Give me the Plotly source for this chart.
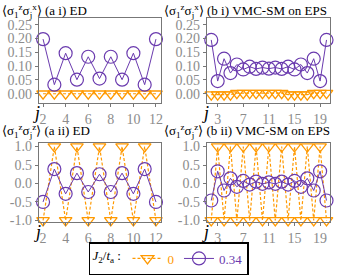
import plotly.graph_objects as go

# ---------------- data ----------------
j_a = list(range(2, 13))
j_b = list(range(2, 21))

# (a i) ED  row 1
ai_J0 = [0.0] * 11
ai_J034 = [0.198, 0.033, 0.147, 0.051, 0.134, 0.055, 0.134, 0.051, 0.147, 0.033, 0.198]

# (b i) VMC-SM on EPS row 1
bi_J0 = [-0.003, -0.003, -0.003, -0.003, 0.002, 0.002, 0.002, 0.002, 0.002, 0.002,
         0.002, 0.002, -0.003, -0.003, -0.003, -0.003, 0.002, 0.002, 0.002]
bi_J034 = [0.195, 0.046, 0.127, 0.075, 0.106, 0.088, 0.098, 0.09, 0.095, 0.091,
           0.095, 0.09, 0.098, 0.088, 0.106, 0.075, 0.127, 0.046, 0.195]

# (a ii) ED  <sz sz>
aii_J0 = [-1, 1, -1, 1, -1, 1, -1, 1, -1, 1, -1]
aii_J034 = [-0.5, 0.39, -0.28, 0.28, -0.23, 0.25, -0.23, 0.28, -0.28, 0.39, -0.5]

# (b ii) VMC-SM on EPS <sz sz>
bii_J0 = [-1, 1, -1, 1, -1, 1, -1, 1, -1, 1, -1, 1, -1, 1, -1, 1, -1, 1, -1]
bii_J034 = [-0.46, 0.33, -0.19, 0.14, -0.09, 0.07, -0.03, 0.05, -0.01, 0.03,
            -0.01, 0.05, -0.03, 0.07, -0.09, 0.14, -0.19, 0.33, -0.46]

xt_a = [2, 4, 6, 8, 10, 12]
xt_b = [3, 7, 11, 15, 19]
yt_i = [0.0, 0.05, 0.10, 0.15, 0.20, 0.25]
yt_i_text = ["0.00", "0.05", "0.10", "0.15", "0.20", "0.25"]
yt_ii = [-1.0, -0.5, 0.0, 0.5, 1.0]
yt_ii_text = ["-1.0", "-0.5", "0.0", "0.5", "1.0"]

titles = [
    "⟨σ<sub>1</sub><sup>z</sup>σ<sub>j</sub><sup>x</sup>⟩ (a i) ED",
    "⟨σ<sub>1</sub><sup>z</sup>σ<sub>j</sub><sup>x</sup>⟩ (b i) VMC-SM on EPS",
    "⟨σ<sub>1</sub><sup>z</sup>σ<sub>j</sub><sup>z</sup>⟩ (a ii) ED",
    "⟨σ<sub>1</sub><sup>z</sup>σ<sub>j</sub><sup>z</sup>⟩ (b ii) VMC-SM on EPS",
]

ORANGE = "#FF9900"
PURPLE = "#6A3AAE"
GRAY = "#8c8c8c"
FONT = "Liberation Serif"

W, H = 338, 275

def px_x(a, b):
    return [a / W, b / W]

def px_y(top, bot):
    return [1 - bot / H, 1 - top / H]

fig = go.Figure()

panels = [
    ("x", "y", j_a, ai_J0, ai_J034),
    ("x2", "y2", j_b, bi_J0, bi_J034),
    ("x3", "y3", j_a, aii_J0, aii_J034),
    ("x4", "y4", j_b, bii_J0, bii_J034),
]
for k, (xa, ya, jj, v0, v1) in enumerate(panels):
    fig.add_trace(go.Scatter(
        x=jj, y=v0, xaxis=xa, yaxis=ya, mode="lines+markers",
        name="<span style='color:%s'>0</span>" % ORANGE, legendgroup="0", showlegend=(k == 0),
        line=dict(color=ORANGE, width=1.2, dash="3px,2px"),
        marker=dict(symbol="triangle-down-open", size=11, color=ORANGE, line=dict(width=1.3, color=ORANGE)),
        cliponaxis=False,
    ))
    fig.add_trace(go.Scatter(
        x=jj, y=v1, xaxis=xa, yaxis=ya, mode="lines+markers",
        name="<span style='color:%s'>0.34</span>" % PURPLE, legendgroup="1", showlegend=(k == 0),
        line=dict(color=PURPLE, width=1),
        marker=dict(symbol="circle-open", size=13, color=PURPLE, line=dict(width=1.2, color=PURPLE)),
        cliponaxis=False,
    ))

axis_common = dict(showline=True, mirror=True, linecolor="#777777", linewidth=1,
                   ticks="outside", ticklen=3, tickcolor="#777777", showgrid=False,
                   zeroline=False, tickfont=dict(family=FONT, size=14, color=GRAY))

xa_dom = px_x(39, 162)
xb_dom = px_x(208, 332)
yi_dom = px_y(15, 103)
yii_dom = px_y(145, 227)

fig.update_layout(
    xaxis=dict(domain=xa_dom, anchor="y", range=[1.62, 12.45], tickvals=xt_a, **axis_common),
    yaxis=dict(domain=yi_dom, anchor="x", range=[-0.033, 0.273], tickvals=yt_i, ticktext=yt_i_text, **axis_common),
    xaxis2=dict(domain=xb_dom, anchor="y2", range=[1.3, 20.55], tickvals=xt_b, **axis_common),
    yaxis2=dict(domain=yi_dom, anchor="x2", range=[-0.033, 0.273], tickvals=yt_i, ticktext=yt_i_text, **axis_common),
    xaxis3=dict(domain=xa_dom, anchor="y3", range=[1.62, 12.45], tickvals=xt_a, **axis_common),
    yaxis3=dict(domain=yii_dom, anchor="x3", range=[-1.04, 1.09], tickvals=yt_ii, ticktext=yt_ii_text, **axis_common),
    xaxis4=dict(domain=xb_dom, anchor="y4", range=[1.3, 20.55], tickvals=xt_b, **axis_common),
    yaxis4=dict(domain=yii_dom, anchor="x4", range=[-1.04, 1.09], tickvals=yt_ii, ticktext=yt_ii_text, **axis_common),
    width=W, height=H,
    margin=dict(l=0, r=0, t=0, b=0),
    paper_bgcolor="white", plot_bgcolor="white",
    font=dict(family=FONT, size=13, color="black"),
    legend=dict(orientation="h", x=170 / W, xanchor="center", y=1 - 248 / H, yanchor="top",
                bordercolor="black", borderwidth=1.5, bgcolor="white",
                font=dict(family=FONT, size=13),
                title=dict(text="<i>J</i><sub>2</sub>/<i>t</i><sub>a</sub> :", font=dict(family=FONT, size=13)),
                itemwidth=30, tracegroupgap=0),
)

# panel titles
title_pos = [(0, 7), (163, 7), (0, 132), (163, 132)]
for t, (px, py) in zip(titles, title_pos):
    fig.add_annotation(text=t, x=px / W, y=1 - py / H, xref="paper", yref="paper",
                       xanchor="left", yanchor="middle", showarrow=False,
                       font=dict(family=FONT, size=13, color="black"))

# x-axis label "j"
for (px, py) in [(37, 114), (207, 114), (38, 238), (207, 238)]:
    fig.add_annotation(text="<i>j</i>", x=px / W, y=1 - py / H, xref="paper", yref="paper",
                       xanchor="center", yanchor="middle", showarrow=False,
                       font=dict(family=FONT, size=18, color="black"))

fig.write_html("out.html", config={"displayModeBar": False},
               post_script="document.body.style.margin='0';")
